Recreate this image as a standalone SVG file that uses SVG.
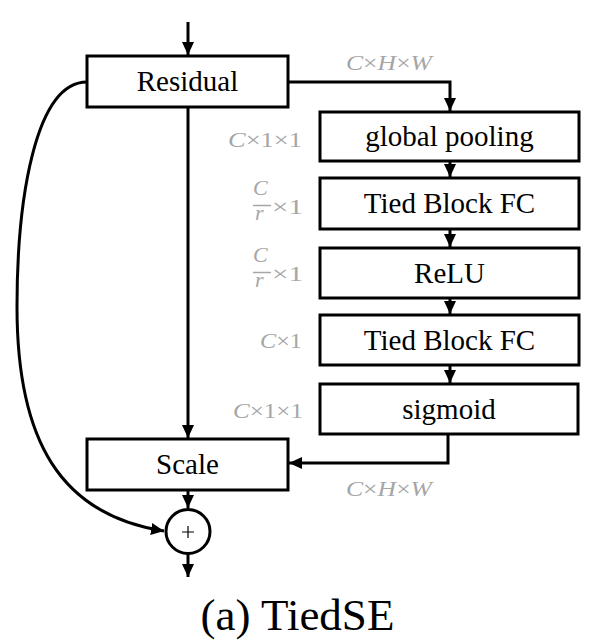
<svg xmlns="http://www.w3.org/2000/svg" width="591" height="644" viewBox="0 0 591 644">
<style>
.box{fill:#fff;stroke:#000;stroke-width:3}
.t{font-family:"Liberation Serif","Times New Roman",serif;font-size:29px;fill:#000;text-anchor:middle}
.lbl{font-family:"Liberation Serif","Times New Roman",serif;font-size:22px;fill:#a6a6a6}
.i{font-style:italic}
.c{fill:none;stroke:#000;stroke-width:3}
</style>
<defs>
<marker id="ah" markerUnits="userSpaceOnUse" markerWidth="14" markerHeight="14" refX="13" refY="7" orient="auto">
<path d="M0,1 L13,7 L0,13 z" fill="#000"/>
</marker>
</defs>
<g id="connectors">
<path class="c" d="M188,22 V55" marker-end="url(#ah)"/>
<path class="c" d="M288,82 H450 V111" marker-end="url(#ah)"/>
<path class="c" d="M450,161 V177" marker-end="url(#ah)"/>
<path class="c" d="M450,229 V247" marker-end="url(#ah)"/>
<path class="c" d="M450,298 V314" marker-end="url(#ah)"/>
<path class="c" d="M450,365 V383" marker-end="url(#ah)"/>
<path class="c" d="M448,434 V463 H289" marker-end="url(#ah)"/>
<path class="c" d="M188,107 V438" marker-end="url(#ah)"/>
<path class="c" d="M188,490 V508" marker-end="url(#ah)"/>
<path class="c" d="M188,554 V577" marker-end="url(#ah)"/>
<path class="c" d="M87,82 C 35,82 17,200 17,307 C 17,440 60,515 164,531" marker-end="url(#ah)"/>
</g>
<g id="residual">
<rect class="box" x="87" y="56" width="201" height="51"/>
<text class="t" x="187.5" y="91">Residual</text>
</g>
<g id="global-pooling">
<rect class="box" x="320" y="112" width="259" height="49"/>
<text class="t" x="449.5" y="146">global pooling</text>
</g>
<g id="fc1">
<rect class="box" x="320" y="178" width="259" height="51"/>
<text class="t" x="449.5" y="213">Tied Block FC</text>
</g>
<g id="relu">
<rect class="box" x="320" y="248" width="259" height="50"/>
<text class="t" x="449.5" y="283">ReLU</text>
</g>
<g id="fc2">
<rect class="box" x="320" y="315" width="259" height="50"/>
<text class="t" x="449.5" y="350">Tied Block FC</text>
</g>
<g id="sigmoid">
<rect class="box" x="320" y="384" width="258" height="50"/>
<text class="t" x="449" y="419">sigmoid</text>
</g>
<g id="scale">
<rect class="box" x="87" y="439" width="201" height="51"/>
<text class="t" x="187.5" y="474">Scale</text>
</g>
<g id="plus">
<circle cx="188" cy="531.5" r="22" fill="#fff" stroke="#000" stroke-width="3"/>
<path d="M182,532 H194 M188,526 V538" stroke="#000" stroke-width="1.2"/>
</g>
<g id="labels">
<text class="lbl" x="346" y="70" textLength="86" lengthAdjust="spacingAndGlyphs"><tspan class="i">C</tspan>×<tspan class="i">H</tspan>×<tspan class="i">W</tspan></text>
<text class="lbl" x="228" y="147" textLength="74" lengthAdjust="spacingAndGlyphs"><tspan class="i">C</tspan>×1×1</text>
<text class="lbl i" x="253" y="195" font-size="19">C</text>
<line x1="253" y1="205.5" x2="271" y2="205.5" stroke="#a6a6a6" stroke-width="1.5"/>
<text class="lbl i" x="255" y="220" font-size="19">r</text>
<text class="lbl" x="272" y="214" textLength="31" lengthAdjust="spacingAndGlyphs">×1</text>
<text class="lbl i" x="253" y="262" font-size="19">C</text>
<line x1="253" y1="272.5" x2="271" y2="272.5" stroke="#a6a6a6" stroke-width="1.5"/>
<text class="lbl i" x="255" y="287" font-size="19">r</text>
<text class="lbl" x="272" y="281" textLength="31" lengthAdjust="spacingAndGlyphs">×1</text>
<text class="lbl" x="260" y="348" textLength="42" lengthAdjust="spacingAndGlyphs"><tspan class="i">C</tspan>×1</text>
<text class="lbl" x="233" y="418" textLength="70" lengthAdjust="spacingAndGlyphs"><tspan class="i">C</tspan>×1×1</text>
<text class="lbl" x="346" y="496" textLength="86" lengthAdjust="spacingAndGlyphs"><tspan class="i">C</tspan>×<tspan class="i">H</tspan>×<tspan class="i">W</tspan></text>
</g>
<text x="297.5" y="630" font-family="'Liberation Serif','Times New Roman',serif" font-size="45" text-anchor="middle">(a) TiedSE</text>
</svg>
